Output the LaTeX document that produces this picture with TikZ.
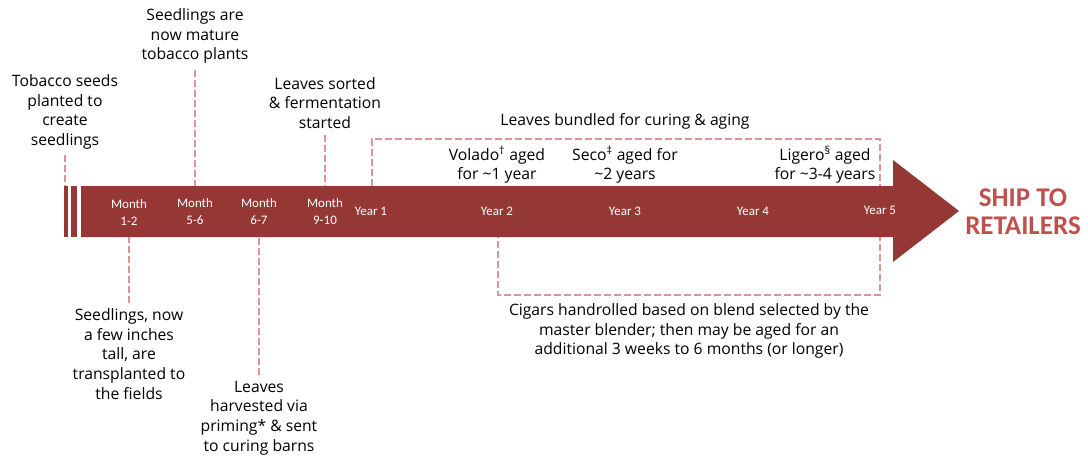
\documentclass[tikz,border=0pt]{standalone}
\usepackage{fontspec}
\setmainfont{Open Sans}
\newfontfamily\barfont{Carlito}
\definecolor{barred}{RGB}{149,55,53}
\definecolor{dashpink}{RGB}{217,150,148}
\definecolor{shipred}{RGB}{192,80,77}

\begin{document}
\begin{tikzpicture}[x=1pt,y=-1pt,
    note/.style={align=center, font=\fontsize{15.7}{19.6}\selectfont, inner sep=1pt},
    stamp/.style={text=white, align=center, font=\barfont\fontsize{13}{17}\selectfont, inner sep=0pt},
    leader/.style={draw=dashpink, line width=2pt, dash pattern=on 7pt off 3pt, shorten <=5pt},
    ship/.style={text=shipred, align=center, font=\barfont\bfseries\fontsize{27}{28}\selectfont}]
    \useasboundingbox (0,0) rectangle (1088,466);

    % curing box, behind the bar
    \draw[draw=dashpink, line width=2pt, dash pattern=on 7pt off 3pt]
        (372,186) -- (372,139) -- (880,139) -- (880,295) -- (498,295) -- (498,237);

    % timeline arrow
    \fill[barred] (81,186) -- (893,186) -- (893,160) -- (959,211) -- (893,262) -- (893,237) -- (81,237) -- cycle;
    \fill[barred] (64,186) rectangle (68,237);
    \fill[barred] (71,186) rectangle (77,237);
    \coordinate (bartop) at (0,186);
    \coordinate (barbot) at (0,237);

    % labels on the bar
    \node[stamp] (m12) at (129,212) {Month\\1-2};
    \node[stamp] (m56) at (195,212) {Month\\5-6};
    \node[stamp] (m67) at (259,212) {Month\\6-7};
    \node[stamp] (m910) at (325,212) {Month\\9-10};
    \node[stamp] (y1) at (371,211) {Year 1};
    \node[stamp] (y2) at (497,211) {Year 2};
    \node[stamp] (y3) at (625,211) {Year 3};
    \node[stamp] (y4) at (753,211) {Year 4};
    \node[stamp] (y5) at (880,210) {Year 5};

    % notes above
    \node[note] (seeds) at (65,112) {Tobacco seeds\\planted to\\create\\seedlings};
    \node[note] (mature) at (195,36) {Seedlings are\\now mature\\tobacco plants};
    \node[note] (sorted) at (325,103) {Leaves sorted\\\& fermentation\\started};
    \node[note] (bundled) at (625,121) {Leaves bundled for curing \& aging};
    \node[note] (volado) at (497,165) {Volado\textsuperscript{†} aged\\for \textasciitilde1 year};
    \node[note] (seco) at (625,165) {Seco\textsuperscript{‡} aged for\\\textasciitilde2 years};
    \node[note] (ligero) at (825,165) {Ligero\textsuperscript{§} aged\\for \textasciitilde3-4 years};

    % notes below
    \node[note] (transplant) at (129,354) {Seedlings, now\\a few inches\\tall, are\\transplanted to\\the fields};
    \node[note] (harvest) at (259,418) {Leaves\\harvested via\\priming* \& sent\\to curing barns};
    \node[note] (handroll) at (689,331) {Cigars handrolled based on blend selected by the\\master blender; then may be aged for an\\additional 3 weeks to 6 months (or longer)};

    \node[ship] (retail) at (1023,212) {SHIP TO\\RETAILERS};

    % leaders
    \draw[leader] (seeds.south) -- (seeds.south |- bartop);
    \draw[leader] (mature.south) -- (mature.south |- bartop);
    \draw[leader] (sorted.south) -- (sorted.south |- bartop);
    \draw[leader] (transplant.north) -- (transplant.north |- barbot);
    \draw[leader] (harvest.north) -- (harvest.north |- barbot);
\end{tikzpicture}
\end{document}
